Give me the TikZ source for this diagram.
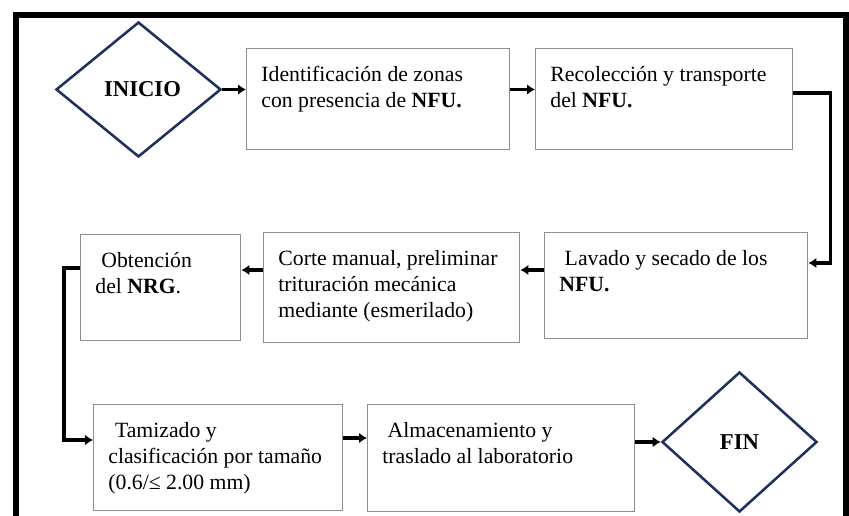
\documentclass[tikz,border=0pt]{standalone}
\usepackage{fontspec}
\setmainfont{Liberation Serif}
\usepackage{tikz}
\usetikzlibrary{calc}
\usetikzlibrary{shapes.geometric}
\usetikzlibrary{arrows.meta}
\definecolor{marino}{HTML}{1F2F5E}
\definecolor{grisbox}{HTML}{8E8E8E}
\tikzset{stepbox/.style={draw=grisbox,line width=1.1pt,inner sep=0pt,anchor=north west,
    font=\fontsize{16.3}{19.5}\selectfont},
    rombo/.style={draw=marino,line width=1.9pt,shape=diamond,inner sep=0pt,
    font=\fontsize{17}{20}\selectfont\bfseries},
    flecha/.style={line width=2.3pt,-{Latex[length=6pt,width=8pt]}}}
\newcommand{\pasotxt}[3]{\parbox[c][#2][t]{#1}{\raggedright\leftskip=11pt\rule{0pt}{24.5pt}#3}}

\begin{document}
\begin{tikzpicture}[x=0.75pt,y=0.75pt,yscale=-1,xscale=1]
\useasboundingbox (0,0) rectangle (849,516);

%Shape: Frame
\draw [line width=4.5pt] (15.5,540) -- (15.5,15.5) -- (846,15.5) -- (846,540) ;

%Shape: Diamond
\node [rombo,minimum width=123.75pt,minimum height=101.25pt] (ini) at (138.5,89.5) {\hspace*{6pt}INICIO};
%Shape: Diamond
\node [rombo,minimum width=116.25pt,minimum height=105pt] (fin) at (739.5,442) {FIN};

% Text Node
\node [stepbox] (idz) at (246,48) {\pasotxt{197.25pt}{75.75pt}{Identificación de zonas\\con presencia de \textbf{NFU.}}};
% Text Node
\node [stepbox] (rec) at (535,48) {\pasotxt{192.75pt}{75.75pt}{Recolección y transporte\\del \textbf{NFU.}}};
% Text Node
\node [stepbox] (lav) at (544,232) {\pasotxt{197.25pt}{79.5pt}{\hspace*{4pt}Lavado y secado de los\\\textbf{NFU.}}};
% Text Node
\node [stepbox] (cor) at (263,232) {\pasotxt{192pt}{82.5pt}{Corte manual, preliminar\\trituración mecánica\\mediante (esmerilado)}};
% Text Node
\node [stepbox] (obt) at (80,234) {\pasotxt{120pt}{79.5pt}{\hspace*{4.5pt}Obtención\\del \textbf{NRG}.}};
% Text Node
\node [stepbox] (tam) at (93,404) {\pasotxt{186.75pt}{79.5pt}{\hspace*{5pt}Tamizado y\\clasificación por tamaño\\(0.6/≤ 2.00 mm)}};
% Text Node
\node [stepbox] (alm) at (367,404) {\pasotxt{200.25pt}{80.25pt}{\hspace*{4pt}Almacenamiento y\\traslado al laboratorio}};

%Straight Lines
\draw [flecha] (ini.east) -- (ini.east -| idz.west) ;
\draw [flecha] (idz.east |- ini.east) -- (rec.west |- ini.east) ;
\draw [flecha] ($(rec.north east)+(0,45)$) -- ++(37,0) |- ($(lav.north east)+(0,31)$) ;
\draw [flecha] ($(lav.north west)+(0,38)$) -- ($(cor.north east)+(0,38)$) ;
\draw [flecha] ($(cor.north west)+(0,38)$) -- ($(obt.north east)+(0,36)$) ;
\draw [flecha] ($(obt.north west)+(0,34)$) -- ++(-16,0) |- ($(tam.north west)+(0,36)$) ;
\draw [flecha] ($(tam.north east)+(0,34)$) -- ($(alm.north west)+(0,34)$) ;
\draw [flecha] (fin.west -| alm.east) -- (fin.west) ;

\end{tikzpicture}
\end{document}
